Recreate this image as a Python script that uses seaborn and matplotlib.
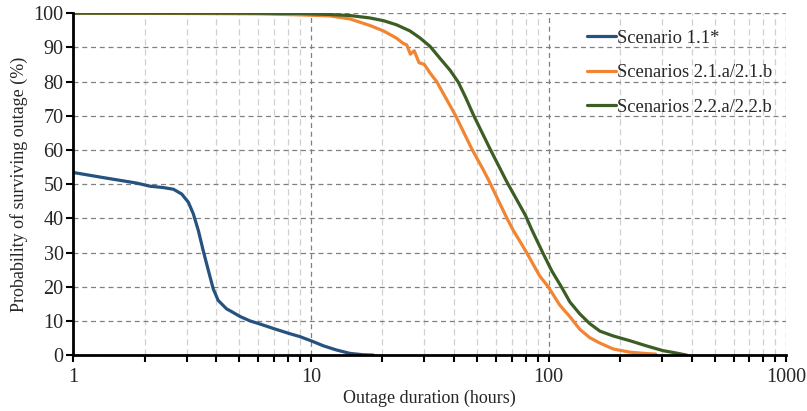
import numpy as np
import pandas as pd
import matplotlib
matplotlib.use("Agg")
import matplotlib.pyplot as plt
import seaborn as sns
from matplotlib.ticker import LogLocator, FixedLocator, FixedFormatter, NullFormatter

# Data
s1_x = [1, 1.34, 1.85, 2.1, 2.39, 2.64, 2.86, 3.05, 3.2, 3.36, 3.52, 3.7, 3.88, 4.07, 4.42,
        4.56, 5.03, 5.54, 6.1, 6.94, 8.03, 8.99, 10, 11.3, 12.8, 14.6, 16.6, 18.3]
s1_y = [53.4, 51.9, 50.3, 49.4, 49.0, 48.5, 47.1, 44.7, 41.3, 36.4, 30.6, 24.8, 19.4, 16.0, 13.5,
        13.0, 11.3, 10.0, 9.1, 7.8, 6.4, 5.4, 4.2, 2.7, 1.5, 0.5, 0.1, 0]

s21_x = [1, 3, 6, 9, 12, 14.6, 17.7, 20.2, 22.9, 24.4, 25.3, 26.2, 27.2, 28.5, 30, 31.7, 33.8,
         40.5, 47.6, 53.2, 55.9, 66.8, 71, 80.8, 91.8, 99.6, 111.5, 123, 135.5, 149, 164.5,
         187, 220, 258, 282]
s21_y = [100, 99.9, 99.8, 99.5, 99.2, 98.3, 96.4, 94.8, 92.7, 91.2, 90.7, 88.0, 89.0, 85.5, 85.0, 82.5, 80.0,
         70.2, 60.2, 54.1, 51.2, 40, 36.5, 30, 23.1, 20, 14.6, 11.2, 7.5, 5.1, 3.5,
         1.8, 0.85, 0.45, 0.3]

s22_x = [1, 5, 9, 12, 14.6, 17.7, 20.2, 22.9, 26.1, 28.7, 31.7, 34.9, 38.5, 41.7, 44.8, 48.3, 56.8,
         66.8, 80, 84.8, 94.4, 103, 113.5, 123, 135.5, 149, 164.5, 187, 220, 258, 303, 345, 381]
s22_y = [100, 100, 99.9, 99.6, 99.3, 98.6, 97.8, 96.6, 94.8, 92.8, 90.3, 86.8, 83.3, 79.8, 75.3, 70.2, 60.2,
         50.6, 40.8, 36.8, 30, 24.7, 19.8, 15.5, 12, 9.2, 7.0, 5.6, 4.2, 2.7, 1.3, 0.6, 0]

labels = ["Scenario 1.1*", "Scenarios 2.1.a/2.1.b", "Scenarios 2.2.a/2.2.b"]
colors = ["#25527f", "#f28532", "#3c5e24"]

x_ticks = [1, 10, 100, 1000]
x_tick_labels = ["1", "10", "100", "1000"]
y_ticks = [0, 10, 20, 30, 40, 50, 60, 70, 80, 90, 100]

df = pd.concat([
    pd.DataFrame({"x": s1_x, "y": s1_y, "series": labels[0]}),
    pd.DataFrame({"x": s21_x, "y": s21_y, "series": labels[1]}),
    pd.DataFrame({"x": s22_x, "y": s22_y, "series": labels[2]}),
], ignore_index=True)

sns.set_style("white")
plt.rcParams["font.family"] = ["Liberation Serif", "DejaVu Serif"]

fig = plt.figure(figsize=(8.07, 4.11), dpi=100)
ax = fig.add_axes([0.0908, 0.136, 0.8835, 0.832])

sns.lineplot(data=df, x="x", y="y", hue="series", palette=dict(zip(labels, colors)),
             linewidth=2.3, ax=ax, sort=False, estimator=None)

ax.set_xscale("log")
ax.set_xlim(1, 1000)
ax.set_ylim(0, 100)

ax.xaxis.set_major_locator(FixedLocator(x_ticks))
ax.xaxis.set_major_formatter(FixedFormatter(x_tick_labels))
ax.xaxis.set_minor_locator(LogLocator(base=10, subs=np.arange(2, 10)))
ax.xaxis.set_minor_formatter(NullFormatter())
ax.set_yticks(y_ticks)

ax.grid(True, which="major", axis="both", color="#808080", linestyle=(0, (4, 3)), linewidth=0.9)
ax.grid(True, which="minor", axis="x", color="#d0d0d0", linestyle=(0, (5, 3)), linewidth=0.9)
ax.set_axisbelow(True)

for side in ["top", "right"]:
    ax.spines[side].set_visible(False)
for side in ["left", "bottom"]:
    ax.spines[side].set_color("black")
    ax.spines[side].set_linewidth(2)

ax.tick_params(axis="both", which="major", direction="out", length=5, width=1.5,
               color="black", labelsize=14.5, bottom=True, left=True)
ax.tick_params(axis="x", which="minor", direction="out", length=5, width=1.5,
               color="black", bottom=True)
ax.tick_params(axis="x", which="major", pad=4)
ax.tick_params(axis="y", which="major", pad=2)

ax.set_xlabel("Outage duration (hours)", fontsize=13, labelpad=2)
ax.set_ylabel("Probability of surviving outage (%)", fontsize=13, labelpad=4)

leg = ax.legend(loc="upper left", bbox_to_anchor=(0.697, 1.0), frameon=False,
                fontsize=13.3, handlelength=1.6, handletextpad=0.05,
                labelspacing=0.95, title=None)
for line in leg.get_lines():
    line.set_linewidth(2.3)

fig.savefig("out.png", dpi=100)
